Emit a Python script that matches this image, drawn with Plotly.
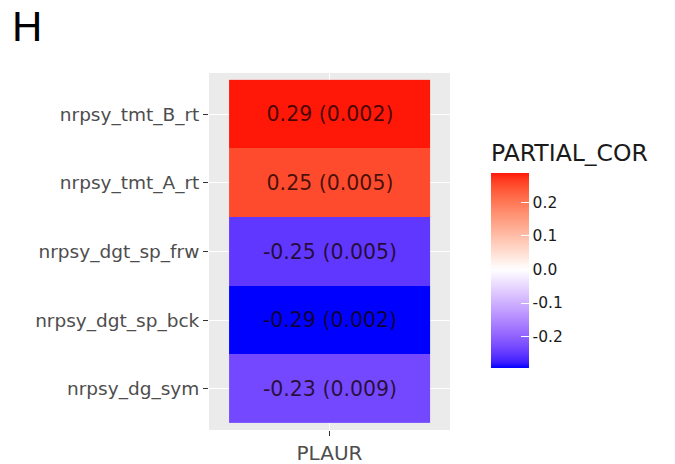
import plotly.graph_objects as go
import numpy as np

# ---- data (top to bottom as in the chart) ----
variables = ["nrpsy_tmt_B_rt", "nrpsy_tmt_A_rt", "nrpsy_dgt_sp_frw",
             "nrpsy_dgt_sp_bck", "nrpsy_dg_sym"]
gene = ["PLAUR"]
partial_cor = [0.288, 0.252, -0.251, -0.294, -0.232]
p_values = [0.002, 0.005, 0.005, 0.002, 0.009]
cbar_ticks = [-0.2, -0.1, 0.0, 0.1, 0.2]
cbar_ticktext = ["-0.2", "-0.1", "0.0", "0.1", "0.2"]
panel_label = "H"
legend_title = "PARTIAL_COR"

# ---- Lab interpolation (mimic ggplot scale_fill_gradient2) ----
def srgb_to_lin(c):
    c = c / 255.0
    return np.where(c <= 0.04045, c / 12.92, ((c + 0.055) / 1.055) ** 2.4)

def lin_to_srgb(c):
    c = np.clip(c, 0, 1)
    v = np.where(c <= 0.0031308, 12.92 * c, 1.055 * c ** (1 / 2.4) - 0.055)
    return np.clip(np.round(v * 255), 0, 255).astype(int)

M = np.array([[0.4124, 0.3576, 0.1805],
              [0.2126, 0.7152, 0.0722],
              [0.0193, 0.1192, 0.9505]])
WP = np.array([0.95047, 1.0, 1.08883])

def rgb_to_lab(rgb):
    xyz = M @ srgb_to_lin(np.array(rgb, float)) / WP
    f = np.where(xyz > 216 / 24389, np.cbrt(xyz), (24389 / 27 * xyz + 16) / 116)
    return np.array([116 * f[1] - 16, 500 * (f[0] - f[1]), 200 * (f[1] - f[2])])

def lab_to_rgb(lab):
    L, a, b = lab
    fy = (L + 16) / 116
    fx = fy + a / 500
    fz = fy - b / 200
    f = np.array([fx, fy, fz])
    xyz = np.where(f ** 3 > 216 / 24389, f ** 3, (116 * f - 16) / (24389 / 27)) * WP
    return lin_to_srgb(np.linalg.solve(M, xyz))

LOW, MID, HIGH = rgb_to_lab((0, 0, 255)), rgb_to_lab((255, 255, 255)), rgb_to_lab((255, 0, 0))

zmin, zmax = min(partial_cor), max(partial_cor)
span = max(abs(zmin), abs(zmax))
colorscale = []
for t in np.linspace(0, 1, 41):
    v = zmin + t * (zmax - zmin)
    r = v / span
    lab = MID + (HIGH - MID) * r if r >= 0 else MID + (LOW - MID) * (-r)
    c = lab_to_rgb(lab)
    colorscale.append([float(t), f"rgb({c[0]},{c[1]},{c[2]})"])

cell_text = [[f"{v:.2f} ({p:.3f})"] for v, p in zip(partial_cor, p_values)]

PL, PR, PT, PB = 209, 450, 73, 430  # plot area in pixels
PW, PH = PR - PL, PB - PT

fig = go.Figure(go.Heatmap(
    x=gene,
    y=variables,
    z=[[v] for v in partial_cor],
    text=cell_text,
    texttemplate="%{text}",
    textfont=dict(family="DejaVu Sans", size=20.5, color="rgba(20,0,0,0.78)"),
    colorscale=colorscale,
    zmin=zmin, zmax=zmax,
    hoverinfo="skip",
    colorbar=dict(
        title=dict(text=legend_title, side="top",
                   font=dict(family="DejaVu Sans", size=23.5, color="#1a1a1a")),
        x=(491 - PL) / PW, xanchor="left",
        y=(PB - 368) / PH, yanchor="bottom",
        lenmode="pixels", len=228,
        thickness=38, thicknessmode="pixels",
        xpad=0, ypad=0,
        outlinewidth=0,
        tickvals=cbar_ticks, ticktext=cbar_ticktext,
        ticks="inside", ticklen=8, tickcolor="white", tickwidth=1,
        tickfont=dict(family="DejaVu Sans", size=15.5, color="#1a1a1a"),
    ),
))

fig.update_layout(
    width=675, height=464,
    margin=dict(l=PL, r=675 - PR, t=PT, b=464 - PB, autoexpand=False),
    paper_bgcolor="white",
    plot_bgcolor="#EBEBEB",
    showlegend=False,
    xaxis=dict(type="category", range=[-0.6, 0.6], showgrid=True, gridcolor="white",
               gridwidth=1.2, zeroline=False, ticks="outside", ticklen=5,
               tickcolor="#333333", tickfont=dict(family="DejaVu Sans", size=20, color="#4D4D4D"),
               fixedrange=True, automargin=False),
    yaxis=dict(type="category", categoryorder="array", categoryarray=variables[::-1],
               range=[-0.6, 4.6], showgrid=True, gridcolor="white", gridwidth=1.2,
               zeroline=False, ticks="outside", ticklen=5, tickcolor="#333333",
               tickfont=dict(family="DejaVu Sans", size=18.5, color="#4D4D4D"),
               fixedrange=True, automargin=False),
    annotations=[dict(text=panel_label, xref="paper", yref="paper",
                      x=(10 - PL) / PW, y=(PB - 26) / PH,
                      xanchor="left", yanchor="middle", showarrow=False,
                      font=dict(family="Liberation Sans", size=42, color="black"))],
)

fig.write_html("out.html", config={"displayModeBar": False},
               post_script="document.body.style.margin='0';")
